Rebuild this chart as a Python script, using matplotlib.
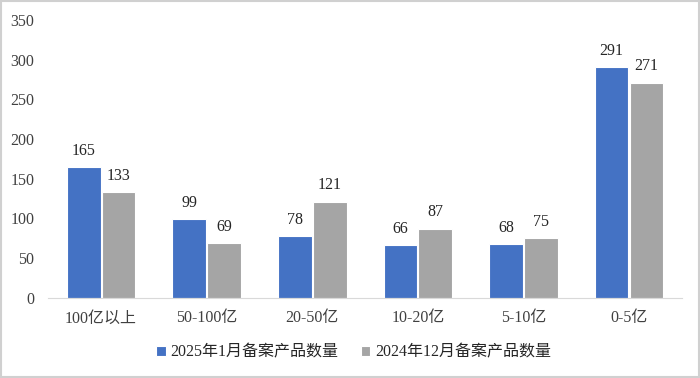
import numpy as np
import matplotlib.pyplot as plt
from matplotlib.patches import Rectangle

plt.rcParams['font.family'] = ['Liberation Serif', 'Noto Sans CJK SC']

categories = ['100亿以上', '50-100亿', '20-50亿', '10-20亿', '5-10亿', '0-5亿']
jan_2025 = [165, 99, 78, 66, 68, 291]
dec_2024 = [133, 69, 121, 87, 75, 271]
labels = ['2025年1月备案产品数量', '2024年12月备案产品数量']

fig = plt.figure(figsize=(7, 3.78), dpi=100)
ax = fig.add_axes([0.069, 0.212, 0.905, 0.735])

x = np.arange(len(categories))
w = 0.32
b1 = ax.bar(x - w / 2 - 0.005, jan_2025, w, color='#4472C4', edgecolor='white', linewidth=0.8, label=labels[0])
b2 = ax.bar(x + w / 2 + 0.005, dec_2024, w, color='#A5A5A5', edgecolor='white', linewidth=0.8, label=labels[1])

for bars in (b1, b2):
    for r in bars:
        ax.annotate(str(int(r.get_height())), (r.get_x() + r.get_width() / 2, r.get_height()),
                    xytext=(0, 6), textcoords='offset points', ha='center', va='bottom',
                    fontsize=11.5, color='#262626')

ax.set_xlim(-0.5, len(categories) - 0.5)
ax.set_ylim(0, 350)
ax.set_yticks(range(0, 351, 50))
ax.set_xticks(x)
ax.set_xticklabels(categories)
ax.tick_params(axis='both', length=0, labelsize=11.5, labelcolor='#404040')
ax.tick_params(axis='x', pad=9)
ax.tick_params(axis='y', pad=10)
for s in ['top', 'right', 'left']:
    ax.spines[s].set_visible(False)
ax.spines['bottom'].set_color('#D9D9D9')

fig.legend(handles=[b1, b2], loc='center', bbox_to_anchor=(0.505, 0.068), ncol=2,
           frameon=False, fontsize=11.5, handlelength=0.6, handleheight=0.6,
           handletextpad=0.3, columnspacing=1.4, labelcolor='#262626')

fig.patches.append(Rectangle((0.002, 0.003), 0.996, 0.994, transform=fig.transFigure,
                             fill=False, edgecolor='#D0D0D0', linewidth=1.5))

fig.savefig('out.png', dpi=100)
